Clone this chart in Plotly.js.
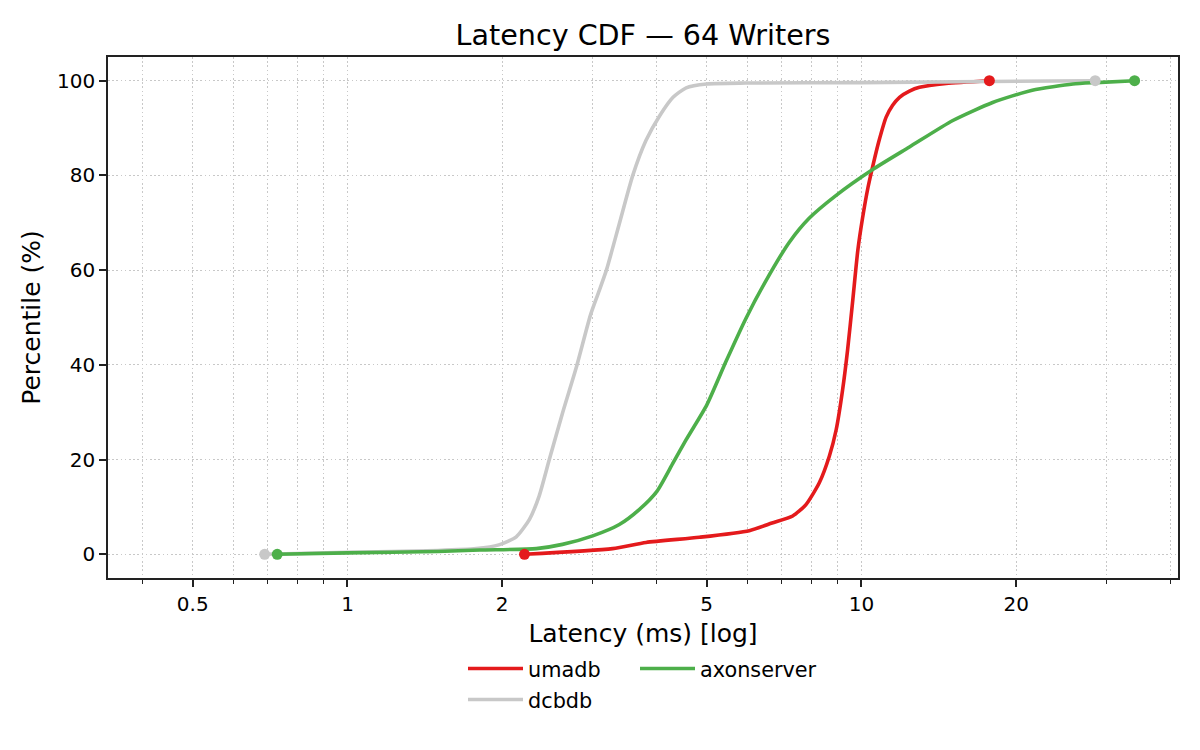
<!DOCTYPE html>
<html>
<head>
<meta charset="utf-8">
<script src="https://cdn.plot.ly/plotly-3.0.1.min.js"></script>
<style>html,body{margin:0;padding:0;background:#fff;}#chart{width:1200px;height:750px;}</style>
</head>
<body>
<div id="chart"></div>
<script>
// ---- data (latency in ms, percentile in %) ----
const seriesNames = ["umadb", "dcbdb", "axonserver"];
const seriesColors = ["#e41a1c", "#c8c8c8", "#4daf4a"];

const umadbLatency = [2.21, 3.28, 3.81, 4.84, 6.05, 6.7, 7.35, 7.8, 8.28, 8.66, 8.93, 9.19, 9.4, 9.62, 9.84, 10.05, 10.3, 10.55, 10.8, 11.17, 11.5, 11.86, 12.4, 12.97, 14.62, 17.74];
const umadbPct     = [0, 1.2, 2.5, 3.6, 5.0, 6.6, 8.1, 10.5, 15.1, 20.7, 26.3, 34.7, 43.2, 53.7, 64.2, 71, 77.5, 82.5, 87, 92.3, 94.8, 96.5, 97.8, 98.6, 99.4, 100];

const dcbdbLatency = [0.69, 1.0, 1.5, 1.78, 1.97, 2.13, 2.26, 2.36, 2.47, 2.62, 2.79, 2.97, 3.08, 3.19, 3.38, 3.59, 3.81, 4.05, 4.30, 4.56, 5.0, 5.96, 10, 28.5];
const dcbdbPct     = [0, 0.4, 0.8, 1.2, 2.0, 3.7, 7.4, 12.3, 20, 29.8, 39.6, 50.5, 55.3, 60, 69.8, 80, 87.4, 92.6, 96.5, 98.5, 99.3, 99.5, 99.6, 100];

const axonLatency = [0.73, 1.0, 1.5, 1.81, 2.33, 2.62, 3.0, 3.38, 3.70, 4.0, 4.30, 4.56, 5.0, 5.45, 5.96, 6.53, 7.24, 7.92, 8.93, 10.5, 12.4, 15.06, 18.0, 21.5, 25.8, 28.6, 34.0];
const axonPct     = [0, 0.3, 0.6, 0.9, 1.2, 2.1, 3.9, 6.3, 9.5, 13.3, 19.3, 24.2, 31.5, 40.7, 49.8, 57.9, 65.9, 71, 75.8, 81.2, 86, 91.6, 95.4, 98.0, 99.3, 99.6, 100];

const xMajorTicks = [0.5, 1, 2, 5, 10, 20];
const xMajorLabels = ["0.5", "1", "2", "5", "10", "20"];
const xMinorTicks = [0.4, 0.6, 0.7, 0.8, 0.9, 3, 4, 6, 7, 8, 9, 30, 40];
const yTicks = [0, 20, 40, 60, 80, 100];
const yLabels = ["0", "20", "40", "60", "80", "100"];

const xs = [umadbLatency, dcbdbLatency, axonLatency];
const ys = [umadbPct, dcbdbPct, axonPct];
const legendOf = ["legend", "legend2", "legend"];
const legendWidths = [102, 130, 140];

// ---- build traces ----
const FONT = "DejaVu Sans, Liberation Sans, sans-serif";
const traces = [];
for (let i = 0; i < 3; i++) {
  traces.push({
    type: "scatter", mode: "lines", name: seriesNames[i],
    x: xs[i], y: ys[i],
    line: {color: seriesColors[i], width: 3.6, shape: "spline", smoothing: 0.6},
    legend: legendOf[i], legendwidth: legendWidths[i], hoverinfo: "skip"
  });
}
for (let i = 0; i < 3; i++) {
  const x = xs[i], y = ys[i];
  traces.push({
    type: "scatter", mode: "markers", showlegend: false,
    x: [x[0], x[x.length - 1]], y: [y[0], y[y.length - 1]],
    marker: {color: seriesColors[i], size: 11},
    hoverinfo: "skip"
  });
}

const gridColor = "#c8c8c8";
const gridDash = "1.6px,2.6px";
const axisColor = "#222222";
const plotL = 108, plotR = 1178, plotT = 57, plotB = 578;
const plotH = plotB - plotT, plotW = plotR - plotL;

const layout = {
  width: 1200, height: 750,
  margin: {l: plotL, r: 1200 - plotR, t: plotT, b: 750 - plotB, pad: 0},
  paper_bgcolor: "#ffffff", plot_bgcolor: "#ffffff",
  font: {family: FONT, color: "#000000", size: 20},
  title: {text: "Latency CDF — 64 Writers", font: {family: FONT, size: 28.6, color: "#000"},
          x: 0.5, xref: "paper", y: 1 - 35 / 750, yref: "container", yanchor: "middle"},
  xaxis: {
    type: "log",
    range: [Math.log10(0.342), Math.log10(41.3)],
    tickmode: "array", tickvals: xMajorTicks, ticktext: xMajorLabels,
    ticks: "outside", ticklen: 7, tickwidth: 1.6, tickcolor: axisColor,
    tickfont: {family: FONT, size: 20, color: "#000"},
    showline: true, linecolor: axisColor, linewidth: 1.6, mirror: true,
    showgrid: true, gridcolor: gridColor, griddash: gridDash, gridwidth: 1.3,
    zeroline: false,
    minor: {tickmode: "array", tickvals: xMinorTicks, ticks: "outside", ticklen: 4,
            tickwidth: 1.2, tickcolor: axisColor, showgrid: true,
            gridcolor: gridColor, griddash: gridDash, gridwidth: 1.3},
    title: {text: "Latency (ms) [log]", font: {family: FONT, size: 25, color: "#000"}, standoff: 10}
  },
  yaxis: {
    range: [-5, 105],
    tickmode: "array", tickvals: yTicks, ticktext: yLabels,
    ticks: "outside", ticklen: 7, tickwidth: 1.6, tickcolor: axisColor,
    tickfont: {family: FONT, size: 20, color: "#000"},
    showline: true, linecolor: axisColor, linewidth: 1.6, mirror: true,
    showgrid: true, gridcolor: gridColor, griddash: gridDash, gridwidth: 1.3,
    zeroline: false,
    title: {text: "Percentile (%)", font: {family: FONT, size: 25, color: "#000"}, standoff: 9}
  },
  showlegend: true,
  legend: {
    orientation: "h", xref: "paper", yref: "paper",
    x: (463 - plotL) / plotW, xanchor: "left",
    y: (plotB - 669) / plotH, yanchor: "middle",
    font: {family: FONT, size: 20.8, color: "#000"},
    itemwidth: 55, bgcolor: "rgba(0,0,0,0)", borderwidth: 0
  },
  legend2: {
    orientation: "h", xref: "paper", yref: "paper",
    x: (463 - plotL) / plotW, xanchor: "left",
    y: (plotB - 700) / plotH, yanchor: "middle",
    font: {family: FONT, size: 20.8, color: "#000"},
    itemwidth: 55, bgcolor: "rgba(0,0,0,0)", borderwidth: 0
  }
};

Plotly.newPlot("chart", traces, layout, {displayModeBar: false});
</script>
</body>
</html>
